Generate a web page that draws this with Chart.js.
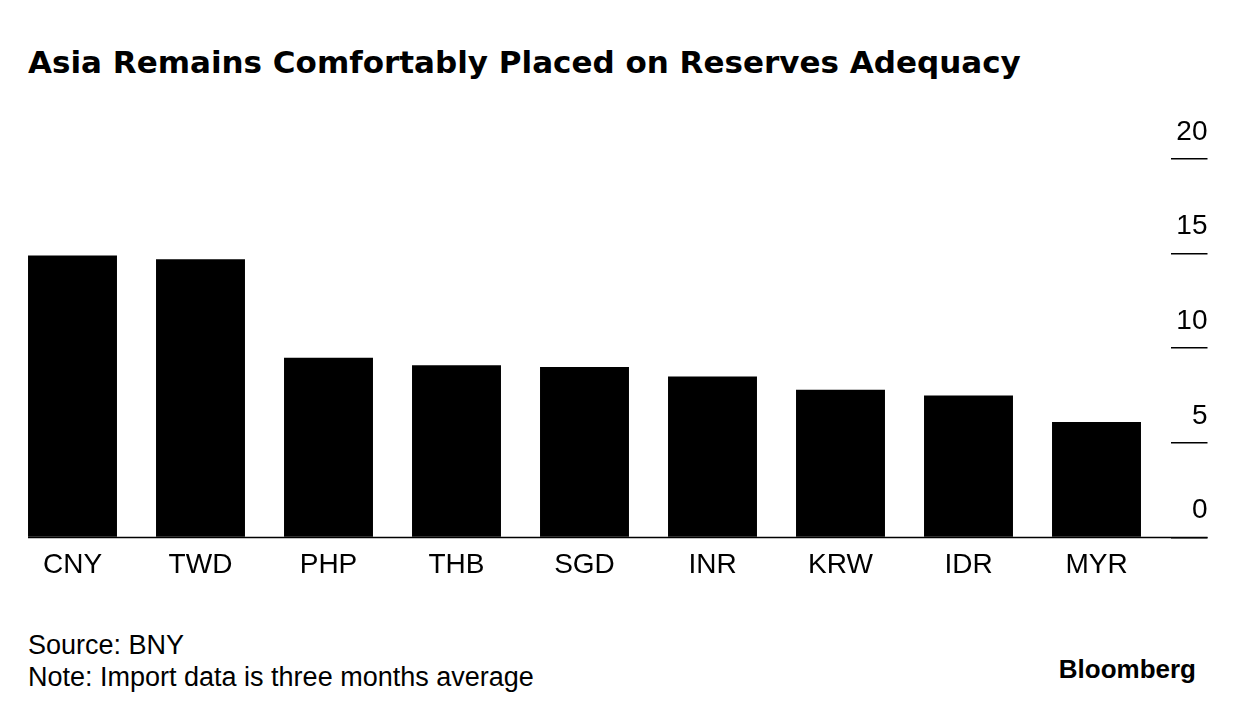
<!DOCTYPE html>
<html lang="en">
<head>
    <meta charset="UTF-8">
    <title>Asia Remains Comfortably Placed on Reserves Adequacy</title>
    <script src="https://cdn.jsdelivr.net/npm/chart.js"></script>
    <style>
        body {
            margin: 0;
            font-family: "Liberation Sans", Arial, sans-serif;
            background: #fff;
            color: #000;
        }
        .page {
            position: relative;
            width: 1236px;
            height: 714px;
            overflow: hidden;
        }
        h1 {
            position: absolute;
            left: 28px;
            top: 42px;
            margin: 0;
            font-family: "DejaVu Sans", sans-serif;
            font-size: 31px;
            line-height: 40px;
            font-weight: bold;
            white-space: nowrap;
        }
        .chart-box {
            position: absolute;
            left: 0;
            top: 100px;
            width: 1236px;
            height: 493px;
        }
        .footer {
            position: absolute;
            left: 28px;
            top: 629px;
            font-size: 27px;
            line-height: 32px;
        }
        .logo {
            position: absolute;
            right: 40px;
            top: 653px;
            font-size: 26px;
            line-height: 32px;
            font-weight: bold;
        }
    </style>
</head>
<body>
<div class="page">
    <h1>Asia Remains Comfortably Placed on Reserves Adequacy</h1>

    <div class="chart-box">
        <canvas id="reservesChart"></canvas>
    </div>

    <div class="footer">
        <div>Source: BNY</div>
        <div>Note: Import data is three months average</div>
    </div>
    <div class="logo">Bloomberg</div>
</div>

<script>
    // Currencies and months of import cover
    const currencies = ['CNY', 'TWD', 'PHP', 'THB', 'SGD', 'INR', 'KRW', 'IDR', 'MYR'];
    const importCover = [14.9, 14.7, 9.5, 9.1, 9.0, 8.5, 7.8, 7.5, 6.1];
    const yTicks = [0, 5, 10, 15, 20];

    // baseline from the first bar to the end of the right-hand tick marks
    const baselinePlugin = {
        id: 'baseline',
        afterDatasetsDraw(chart) {
            const bar = chart.getDatasetMeta(0).data[0];
            const y = chart.scales.y;
            const py = y.getPixelForValue(0);
            const ctx = chart.ctx;
            ctx.save();
            ctx.strokeStyle = '#000';
            ctx.lineWidth = 1.5;
            ctx.beginPath();
            ctx.moveTo(bar.x - bar.width / 2, py);
            ctx.lineTo(y.right, py);
            ctx.stroke();
            ctx.restore();
        }
    };

    new Chart(document.getElementById('reservesChart'), {
        type: 'bar',
        data: {
            labels: currencies,
            datasets: [{
                data: importCover,
                yAxisID: 'y',
                backgroundColor: '#000',
                borderWidth: 0,
                categoryPercentage: 1.0,
                barPercentage: 0.695
            }]
        },
        options: {
            responsive: true,
            maintainAspectRatio: false,
            animation: false,
            layout: {
                padding: { top: 59, left: 8.5, right: 28.5, bottom: 0 }
            },
            plugins: {
                legend: { display: false },
                tooltip: { enabled: false }
            },
            scales: {
                x: {
                    grid: { display: false, drawTicks: false },
                    border: { display: false },
                    ticks: {
                        color: '#000',
                        padding: 11,
                        font: { family: 'Liberation Sans', size: 28 }
                    }
                },
                // empty spacer between the bars and the value axis
                gap: {
                    type: 'linear',
                    position: 'right',
                    weight: 0,
                    grid: { display: false, drawTicks: false },
                    border: { display: false },
                    ticks: { display: false },
                    afterFit(scale) { scale.width = 10; }
                },
                y: {
                    position: 'right',
                    weight: 1,
                    min: 0,
                    max: 20,
                    afterBuildTicks(scale) {
                        scale.ticks = yTicks.map(v => ({ value: v }));
                    },
                    afterFit(scale) { scale.width = 37; },
                    grid: {
                        drawOnChartArea: false,
                        drawTicks: true,
                        tickLength: 37,
                        color: '#000',
                        lineWidth: 1.5
                    },
                    border: { display: false },
                    ticks: {
                        color: '#000',
                        crossAlign: 'far',
                        padding: -31,
                        labelOffset: -27,
                        font: { family: 'Liberation Sans', size: 28 }
                    }
                }
            }
        },
        plugins: [baselinePlugin]
    });
</script>
</body>
</html>
